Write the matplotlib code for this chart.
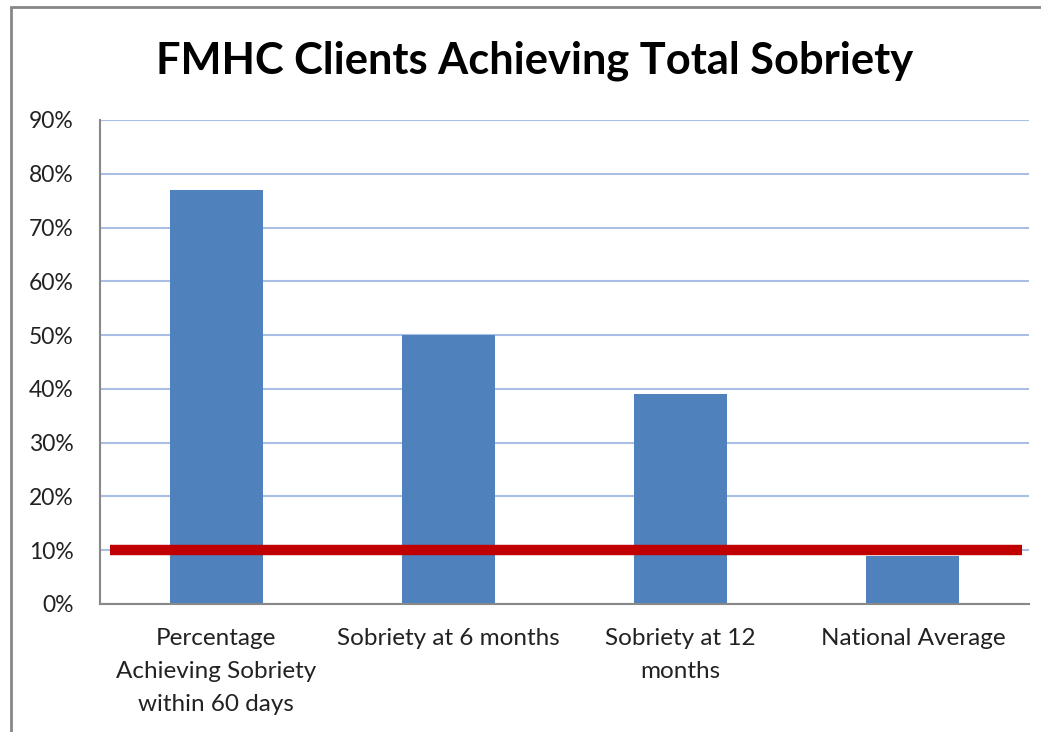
import matplotlib
matplotlib.use("Agg")
import matplotlib.pyplot as plt
from matplotlib.patches import Rectangle
from matplotlib.ticker import PercentFormatter

categories = ["Percentage\nAchieving Sobriety\nwithin 60 days",
              "Sobriety at 6 months",
              "Sobriety at 12\nmonths",
              "National Average"]
values = [0.77, 0.50, 0.39, 0.09]
national_average = 0.10
y_ticks = [0.0, 0.1, 0.2, 0.3, 0.4, 0.5, 0.6, 0.7, 0.8, 0.9]
title = "FMHC Clients Achieving Total Sobriety"

W, H = 1041, 732
fig = plt.figure(figsize=(W / 100, H / 100), dpi=100)
plt.rcParams['font.family'] = ['Lato', 'DejaVu Sans']

# outer frame (partially cropped, as in the reference)
fig.patches.append(Rectangle((11 / W, -0.05), 1.2, 1 - 7 / H + 0.05,
                             transform=fig.transFigure, fill=False,
                             edgecolor='#878787', linewidth=2))

ax = fig.add_axes([100 / W, 1 - 604 / H, (1029 - 100) / W, (604 - 120) / H])
x = list(range(len(categories)))
ax.bar(x, values, width=0.4, color='#4F81BD', zorder=2)
ax.set_xlim(-0.5, len(categories) - 0.5)
ax.set_ylim(0, 0.9)
ax.set_yticks(y_ticks)
ax.yaxis.set_major_formatter(PercentFormatter(1.0, decimals=0))
ax.grid(axis='y', color='#A9BFE6', linewidth=1.5, zorder=0)
ax.set_axisbelow(True)

# national average line
x0, x1 = ax.get_xlim()
ax.plot([x0 + 0.043, x1 - 0.03], [national_average] * 2, color='#C00000',
        linewidth=7.5, solid_capstyle='butt', zorder=3)

ax.set_xticks(x)
ax.set_xticklabels(categories, fontsize=17.5, color='#222222', linespacing=1.7,
                   va='top')
ax.tick_params(axis='x', length=0, pad=17.5)
ax.tick_params(axis='y', length=0, pad=19, labelsize=16.5, labelcolor='#222222')
for s in ['top', 'right']:
    ax.spines[s].set_visible(False)
for s in ['left', 'bottom']:
    ax.spines[s].set_color('#888888')
    ax.spines[s].set_linewidth(1.5)

fig.text(535 / W, 1 - 61 / H, title, ha='center', va='center',
         fontsize=31.2, fontweight='bold', color='black')

fig.savefig("out.png", dpi=100)
